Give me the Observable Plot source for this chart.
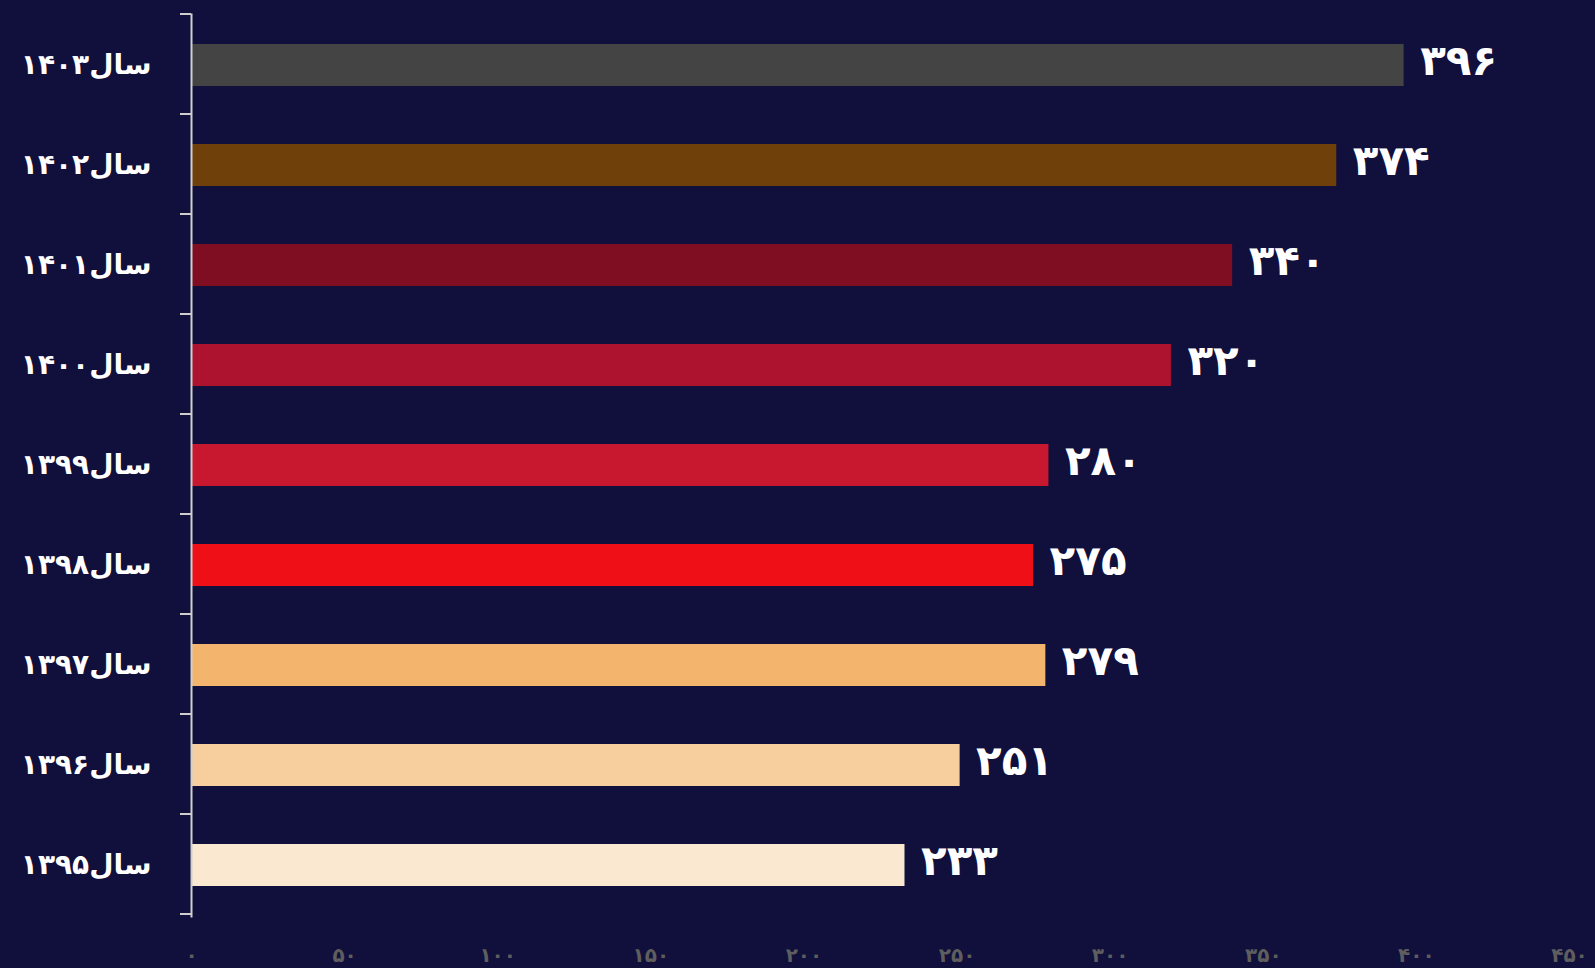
<!DOCTYPE html>
<html>
<head>
<meta charset="utf-8">
<script src="https://cdn.jsdelivr.net/npm/d3@7"></script>
<script src="https://cdn.jsdelivr.net/npm/@observablehq/plot@0.6"></script>
<style>
  html, body { margin: 0; padding: 0; background: #110f3b; }
  #chart { width: 1595px; height: 968px; }
</style>
</head>
<body>
<div id="chart"></div>
<script>
const years = ["سال۱۴۰۳", "سال۱۴۰۲", "سال۱۴۰۱", "سال۱۴۰۰", "سال۱۳۹۹", "سال۱۳۹۸", "سال۱۳۹۷", "سال۱۳۹۶", "سال۱۳۹۵"];
const values = [396, 374, 340, 320, 280, 275, 279, 251, 233];
const colors = ["#444444", "#6f400a", "#7f0e22", "#ad122e", "#c8182f", "#ee1016", "#f3b56e", "#f7cf9f", "#fbe8d1"];
const xTicks = [0, 50, 100, 150, 200, 250, 300, 350, 400, 450];

const faDigits = "۰۱۲۳۴۵۶۷۸۹";
const fa = (n) => String(n).replace(/\d/g, (c) => faDigits[+c]);

const data = years.map((y, i) => ({year: y, value: values[i], color: colors[i]}));

const plot = Plot.plot({
  width: 1595,
  height: 968,
  marginLeft: 191,
  marginRight: 26,
  marginTop: 14,
  marginBottom: 52,
  style: {background: "#110f3b", fontFamily: "'DejaVu Sans', sans-serif"},
  x: {domain: [0, 450], ticks: xTicks, tickFormat: fa},
  y: {domain: years, paddingInner: 0.58, paddingOuter: 0.29},
  marks: [
    Plot.barX(data, {y: "year", x: "value", fill: "color"}),
    Plot.text(data, {
      y: "year", x: "value", text: (d) => fa(d.value),
      textAnchor: "start", dx: 16, dy: -4, fill: "white",
      fontSize: 42, fontWeight: "bold"
    }),
    Plot.axisX({ticks: xTicks, tickFormat: fa, tickSize: 0, tickPadding: 31, fill: "#5e5e5e", fontSize: 20, fontWeight: "bold", label: null}),
    Plot.axisY({tickSize: 0, tickPadding: 40, fill: "white", fontSize: 28, fontWeight: "bold", label: null}),
    Plot.frame({anchor: "left", stroke: "#cfcfcf", strokeWidth: 2})
  ]
});

document.getElementById("chart").appendChild(plot);

// bracket ticks at band boundaries, derived from the y scale
const ys = plot.scale("y");
const r0 = Math.min(...ys.range);
const step = ys.step;
const boundaries = d3.range(ys.domain.length + 1).map((i) => r0 + i * step);
const x0 = plot.scale("x").range[0];
d3.select(plot).append("g")
  .attr("stroke", "#cfcfcf").attr("stroke-width", 2)
  .selectAll("line").data(boundaries).join("line")
  .attr("x1", x0 - 11).attr("x2", x0)
  .attr("y1", (d) => d).attr("y2", (d) => d);
</script>
</body>
</html>
